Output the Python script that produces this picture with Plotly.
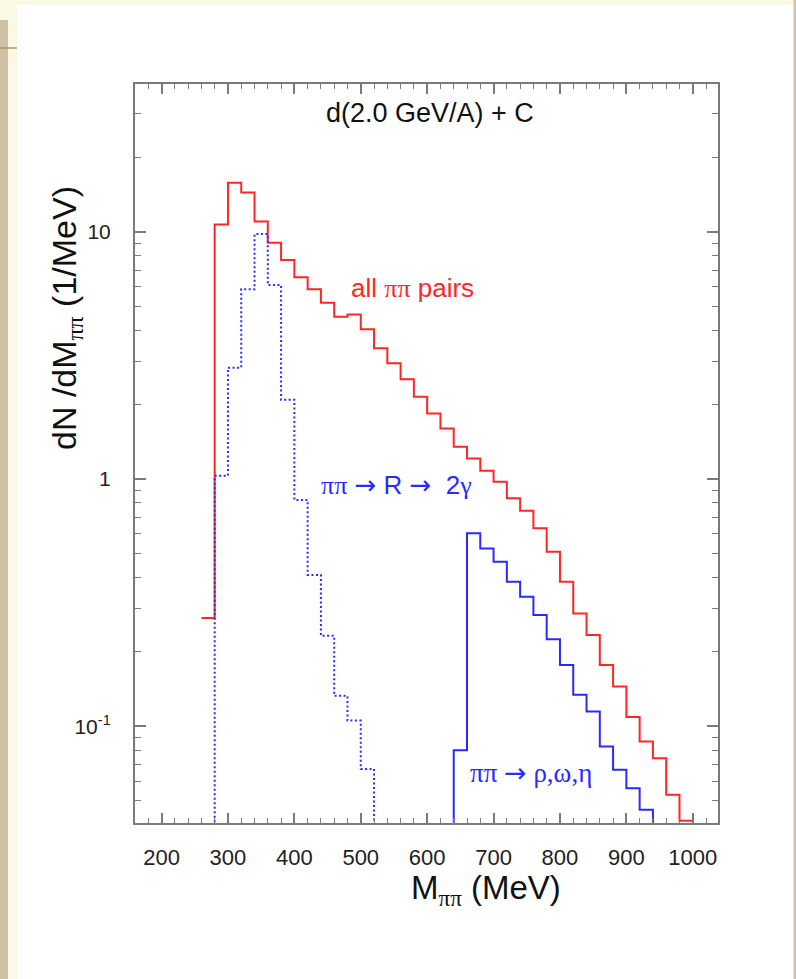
import numpy as np
import plotly.graph_objects as go

# ---------------- data ----------------
bin_width = 20  # MeV

# all pi-pi pairs (red solid histogram), bins start at 260 MeV
red_start = 260
red_vals = [0.274, 10.7, 15.8, 14.4, 11.0, 9.03, 7.68, 6.54, 5.85, 5.16,
            4.53, 4.63, 4.03, 3.38, 2.94, 2.53, 2.15, 1.84, 1.60, 1.35,
            1.21, 1.08, 0.975, 0.836, 0.744, 0.632, 0.508, 0.384, 0.286, 0.234,
            0.177, 0.1446, 0.109, 0.0867, 0.0742, 0.0528, 0.0415]

# pi pi -> R -> 2 gamma (blue dotted), bins start at 260 MeV (first/last below plotted range)
dot_start = 260
dot_vals = [0.02, 1.03, 2.82, 5.85, 9.79, 6.09, 2.09, 0.822, 0.409, 0.232,
            0.1327, 0.1054, 0.0672, 0.02]

# pi pi -> rho, omega, eta (blue solid), bins start at 620 MeV (first/last below plotted range)
vec_start = 620
vec_vals = [0.02, 0.080, 0.603, 0.524, 0.463, 0.384, 0.334, 0.282, 0.225, 0.177,
            0.134, 0.1146, 0.0827, 0.0666, 0.0561, 0.0459, 0.02]

x_major = [200, 300, 400, 500, 600, 700, 800, 900, 1000]
x_labels = ["200", "300", "400", "500", "600", "700", "800", "900", "1000"]
x_minor = [v for v in range(160, 1041, 20) if v % 100 != 0]
y_major = [0.1, 1, 10]
y_labels = ["10<sup>-1</sup>", "1", "10"]
y_minor = [0.05, 0.06, 0.07, 0.08, 0.09, 0.2, 0.3, 0.4, 0.5, 0.6, 0.7, 0.8, 0.9,
           2, 3, 4, 5, 6, 7, 8, 9, 20, 30]


def step_xy(start, vals):
    edges = [start + bin_width * i for i in range(len(vals) + 1)]
    return edges, list(vals) + [vals[-1]]


RED = "#ff2626"
BLUE = "#2a2aff"
SERIF = "Liberation Serif"
ARROW = "DejaVu Sans"
SANS = "Liberation Sans, Arial, Helvetica, sans-serif"

fig = go.Figure()
rx, ry = step_xy(red_start, red_vals)
fig.add_trace(go.Scatter(x=rx, y=ry, mode="lines",
                         line=dict(shape="hv", color=RED, width=2), showlegend=False))
dx, dy = step_xy(dot_start, dot_vals)
fig.add_trace(go.Scatter(x=dx, y=dy, mode="lines",
                         line=dict(shape="hv", color=BLUE, width=2, dash="2px,2.5px"),
                         showlegend=False))
vx, vy = step_xy(vec_start, vec_vals)
fig.add_trace(go.Scatter(x=vx, y=vy, mode="lines",
                         line=dict(shape="hv", color=BLUE, width=2), showlegend=False))

AX = "#7a7a7a"
fig.update_xaxes(range=[160, 1038], tickmode="array", tickvals=x_major, ticktext=x_labels,
                 ticks="inside", ticklen=10, tickwidth=1.5, tickcolor=AX,
                 showline=True, linecolor=AX, linewidth=2, mirror="ticks",
                 showgrid=False, zeroline=False,
                 tickfont=dict(family=SANS, size=22, color="#222"),
                 ticklabelstandoff=14,
                 minor=dict(tickmode="array", tickvals=x_minor, ticks="inside",
                            ticklen=5, tickwidth=1.2, tickcolor=AX, showgrid=False))
fig.update_yaxes(type="log", range=[np.log10(0.0406), np.log10(39.6)],
                 tickmode="array", tickvals=y_major, ticktext=y_labels,
                 ticks="inside", ticklen=11, tickwidth=1.5, tickcolor=AX,
                 showline=True, linecolor=AX, linewidth=2, mirror="ticks",
                 showgrid=False, zeroline=False,
                 tickfont=dict(family=SANS, size=21, color="#222"),
                 ticklabelstandoff=18,
                 minor=dict(tickmode="array", tickvals=y_minor, ticks="inside",
                            ticklen=6, tickwidth=1.2, tickcolor=AX, showgrid=False))

W, H = 796, 979
L, R, T, B = 135, 78, 84, 156
pw, ph = W - L - R, H - T - B


def px(xp):
    return (xp - L) / pw


def py(yp):
    return (H - B - yp) / ph


shapes = [
    dict(type="rect", xref="paper", yref="paper", x0=px(17), x1=px(793.5), y0=py(H), y1=py(5),
         fillcolor="white", line=dict(width=0), layer="below"),
    dict(type="rect", xref="paper", yref="paper", x0=px(0), x1=px(8), y0=py(H), y1=py(20),
         fillcolor="#cfc2a4", line=dict(width=0), layer="below"),
    dict(type="rect", xref="paper", yref="paper", x0=px(793.5), x1=px(796), y0=py(H), y1=py(0),
         fillcolor="#cfc4aa", line=dict(width=0), layer="below"),
    dict(type="line", xref="paper", yref="paper", x0=px(0), x1=px(17), y0=py(48), y1=py(48),
         line=dict(color="#b8906c", width=1.5), layer="below"),
]


def sp(txt, fam):
    return f"<span style='font-family:{fam}'>{txt}</span>"


C = dict(showarrow=False, xanchor="center", yanchor="middle")
annotations = [
    dict(text="d(2.0 GeV/A) + C", xref="x", yref="y", x=605, y=np.log10(30.2),
         font=dict(family=SANS, size=27, color="#111"), **C),
    dict(text="all " + sp("ππ", SERIF) + " pairs", xref="x", yref="y",
         x=578, y=np.log10(5.9), font=dict(family=SANS, size=26, color=RED), **C),
    dict(text=sp("ππ", SERIF) + " " + sp("→", ARROW) + " R " + sp("→", ARROW) + "  2" + sp("γ", SERIF),
         xref="x", yref="y", x=554, y=np.log10(0.945),
         font=dict(family=SANS, size=26, color=BLUE), **C),
    dict(text="ππ " + sp("→", ARROW) + " ρ,ω,η", xref="x", yref="y", x=756, y=np.log10(0.0647),
         font=dict(family=SERIF, size=27, color=BLUE), **C),
    dict(text="dN /dM<sub>" + sp("ππ", SERIF) + "</sub> (1/MeV)",
         xref="paper", yref="paper", x=px(66), y=py(318), textangle=-90,
         font=dict(family=SANS, size=34, color="#111"), **C),
    dict(text="M<sub>" + sp("ππ", SERIF) + "</sub> (MeV)",
         xref="paper", yref="paper", x=px(486), y=py(890),
         font=dict(family=SANS, size=33, color="#111"), **C),
]

fig.update_layout(width=W, height=H, margin=dict(l=L, r=R, t=T, b=B),
                  paper_bgcolor="#fbf9e6", plot_bgcolor="white",
                  shapes=shapes, annotations=annotations, showlegend=False)

fig.write_html("out.html")
